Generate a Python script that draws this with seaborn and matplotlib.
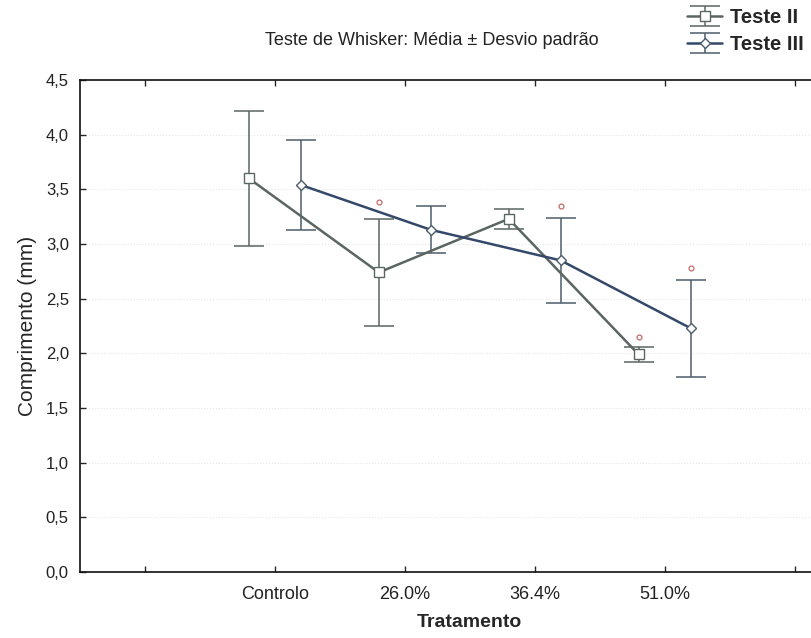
import numpy as np
import pandas as pd
import matplotlib
matplotlib.use('Agg')
import matplotlib.pyplot as plt
import seaborn as sns

# data
tratamentos = ['Controlo', '26.0%', '36.4%', '51.0%']
series_names = ['Teste II', 'Teste III']
media_t2 = [3.60, 2.74, 3.23, 1.99]
dp_t2 = [0.62, 0.49, 0.09, 0.07]
media_t3 = [3.54, 3.13, 2.85, 2.23]
dp_t3 = [0.41, 0.215, 0.39, 0.445]
# significance markers (small red circles), None where absent
sig_t2 = [None, 3.38, None, 2.15]
sig_t3 = [None, None, 3.35, 2.78]
y_ticks = [0.0, 0.5, 1.0, 1.5, 2.0, 2.5, 3.0, 3.5, 4.0, 4.5]

sns.set_style("white")
plt.rcParams['font.family'] = ['Liberation Sans', 'DejaVu Sans']

fig = plt.figure(figsize=(8.12, 6.38), dpi=100)
ax = fig.add_axes([0.0985, 0.1034, 0.96, 0.7712])

pos = np.arange(1, len(tratamentos) + 1)
offset = 0.2

df = pd.DataFrame({
    'x': np.concatenate([pos - offset, pos + offset]),
    'media': media_t2 + media_t3,
    'dp': dp_t2 + dp_t3,
    'serie': np.repeat(series_names, len(tratamentos)),
})

styles = {
    'Teste II': dict(color='#5b6662', bar='#5b6662', marker='s', ms=7),
    'Teste III': dict(color='#34486a', bar='#4d5d6c', marker='D', ms=5.5),
}

handles = []
for nome in series_names:
    sub = df[df['serie'] == nome]
    st = styles[nome]
    eb = ax.errorbar(sub['x'], sub['media'], yerr=sub['dp'], fmt='none',
                     ecolor=st['bar'], elinewidth=1.1, capsize=11, capthick=1.1,
                     zorder=2)
    sns.lineplot(data=sub, x='x', y='media', ax=ax, color=st['color'],
                 linewidth=1.8, marker=st['marker'], markersize=st['ms'],
                 markerfacecolor='white', markeredgecolor=st['bar'],
                 markeredgewidth=1.0, zorder=3, legend=False)
    handles.append((eb, ax.lines[-1]))

for sig, off in [(sig_t2, -offset), (sig_t3, offset)]:
    xs = [p + off for p, s in zip(pos, sig) if s is not None]
    ys = [s for s in sig if s is not None]
    ax.plot(xs, ys, linestyle='none', marker='o', markersize=3.5,
            markerfacecolor='white', markeredgecolor='#c46a6a',
            markeredgewidth=0.9, zorder=4)

ax.set_xlim(-0.5, 5.5)
ax.set_ylim(0, 4.5)
ax.set_xticks(range(0, 6))
ax.set_xticklabels([''] + tratamentos + [''], fontsize=13, color='#222222')
ax.set_yticks(y_ticks)
ax.set_yticklabels([f'{v:.1f}'.replace('.', ',') for v in y_ticks],
                   fontsize=12, color='#222222')
ax.tick_params(axis='both', direction='in', length=4, width=1, pad=8,
               top=True, bottom=True, left=True, right=False)
ax.tick_params(axis='x', pad=10)
for v in y_ticks[1:-1]:
    ax.axhline(v, color='#e6e6e6', linestyle=':', linewidth=0.8, zorder=0)
for s in ['left', 'bottom', 'top']:
    ax.spines[s].set_color('#111111')
    ax.spines[s].set_linewidth(1.2)
ax.spines['right'].set_visible(False)

ax.set_xlabel('Tratamento', fontsize=14, fontweight='bold', labelpad=8)
ax.set_ylabel('Comprimento (mm)', fontsize=15, labelpad=6)

fig.text(0.532, 0.937, 'Teste de Whisker: Média ± Desvio padrão',
         fontsize=13, ha='center', va='center', color='#222222')

leg = fig.legend(handles, series_names, loc='upper right',
                 bbox_to_anchor=(1.0, 1.0), frameon=False,
                 prop={'weight': 'bold', 'size': 14.5}, handlelength=1.75,
                 labelspacing=0.4, handletextpad=0.4, borderaxespad=0.1,
                 borderpad=0.3)

fig.savefig('out.png', dpi=100)
